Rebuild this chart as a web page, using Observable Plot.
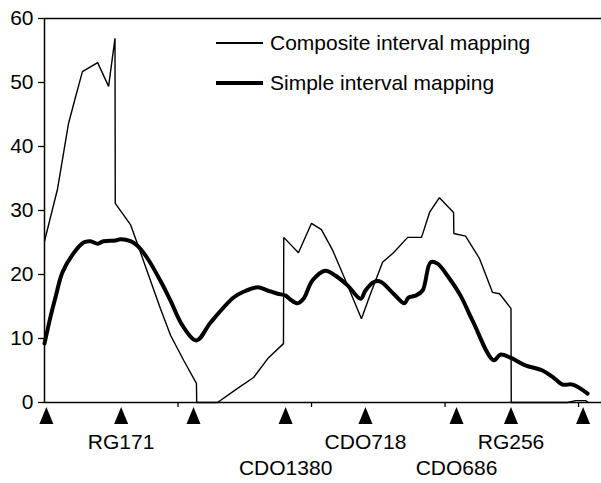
<!DOCTYPE html>
<html>
<head>
<meta charset="utf-8">
<script src="https://cdn.jsdelivr.net/npm/d3@7"></script>
<script src="https://cdn.jsdelivr.net/npm/@observablehq/plot@0.6"></script>
<style>
  html, body { margin: 0; padding: 0; background: #fff; }
  #wrap { position: relative; width: 601px; height: 483px; font-family: "Liberation Sans", Arial, Helvetica, sans-serif; }
  #legend { position: absolute; left: 216px; top: 0; font-size: 21px; color: #000; }
  .lg { position: absolute; display: flex; align-items: center; white-space: nowrap; }
  .lg .sw { width: 47px; margin-right: 7px; background: #000; }
</style>
</head>
<body>
<div id="wrap">
  <div id="chart"></div>
  <div id="legend"></div>
</div>
<script>
// ---- data (position in cM, LOD-like score) ----
const compositeX = [0, 4.9, 9.0, 11.6, 14.2, 19.9, 24.0, 26.4, 26.5, 32.2, 34.8, 43.4, 47.2, 52.1, 56.9, 57.0, 64.8, 72.3, 78.3, 83.9, 89.5, 89.6, 95.1, 100.0, 103.7, 107.9, 111.6, 118.7, 122.1, 126.6, 130.7, 136.0, 141.2, 144.2, 147.9, 153.2, 153.3, 157.7, 162.9, 167.8, 170.4, 174.7, 174.8, 195.9, 198.9, 202.6, 203.7];
const compositeY = [25.2, 33.4, 43.6, 47.7, 51.7, 53.1, 49.4, 56.9, 31.1, 27.8, 24.8, 14.7, 10.5, 6.6, 3.0, 0, 0, 2.2, 3.9, 7.0, 9.2, 25.8, 23.4, 28.0, 27.0, 23.8, 20.2, 13.1, 17.0, 21.9, 23.4, 25.8, 25.8, 29.7, 32.0, 29.7, 26.4, 26.0, 22.5, 17.2, 17.0, 14.7, 0, 0, 0.3, 0.3, 0];

const simpleX = [0, 2.2, 4.1, 6.7, 10.5, 14.6, 17.2, 19.9, 22.1, 26.6, 28.5, 32.2, 34.8, 38.6, 44.2, 47.2, 51.7, 56.9, 62.2, 70.8, 74.5, 79.8, 83.5, 87.3, 90.3, 92.1, 94.8, 97.0, 100.4, 105.2, 109.0, 113.5, 118.4, 120.2, 123.2, 125.8, 130.7, 134.8, 136.3, 139.0, 141.6, 144.6, 147.2, 150.9, 155.8, 160.3, 168.2, 170.8, 174.5, 180.1, 186.5, 190.6, 194.0, 197.8, 203.4];
const simpleY = [9.2, 13.3, 16.4, 20.3, 23.1, 25.0, 25.2, 24.8, 25.2, 25.3, 25.5, 25.2, 24.5, 22.5, 18.4, 15.9, 12.0, 9.7, 12.5, 16.4, 17.3, 18.0, 17.5, 17.0, 16.7, 16.1, 15.5, 16.2, 19.1, 20.6, 19.8, 18.3, 16.2, 17.5, 18.8, 18.9, 17.0, 15.5, 16.4, 16.7, 17.5, 21.9, 21.7, 19.8, 16.7, 12.8, 6.6, 7.5, 7.0, 5.8, 5.0, 3.9, 2.8, 2.8, 1.4];

const markerPos = [0.7, 28.7, 55.8, 90.3, 120.2, 154.3, 174.7, 201.7];
const markerLabels = ["", "RG171", "", "CDO1380", "CDO718", "CDO686", "RG256", ""];
const markerRow = [0, 0, 0, 1, 0, 1, 0, 0];

const yTicks = [0, 10, 20, 30, 40, 50, 60];
const xMinorTicks = [50, 100, 150, 200];
const seriesNames = ["Composite interval mapping", "Simple interval mapping"];

// ---- build tables ----
const composite = compositeX.map((x, i) => ({x, y: compositeY[i]}));
const simple = simpleX.map((x, i) => ({x, y: simpleY[i]}));
const markers = markerPos.map((x, i) => ({x, label: markerLabels[i], row: markerRow[i]}));

const triangle = {
  draw(context) {
    context.moveTo(0, -8.5);
    context.lineTo(7, 8.5);
    context.lineTo(-7, 8.5);
    context.closePath();
  }
};

const font = "Liberation Sans, Arial, Helvetica, sans-serif";

const chart = Plot.plot({
  width: 601,
  height: 483,
  marginLeft: 44,
  marginRight: 0,
  marginTop: 18,
  marginBottom: 81,
  style: {fontFamily: font, fontSize: "21px", color: "#000", background: "#fff"},
  x: {domain: [0, 208.6], axis: null},
  y: {domain: [0, 60], axis: null},
  marks: [
    Plot.axisY({ticks: yTicks, tickSize: 6, tickPadding: 5, fontSize: 21, label: null, stroke: "#000", strokeWidth: 1.3}),
    Plot.axisX({ticks: xMinorTicks, tickSize: 5, tickFormat: () => "", label: null, stroke: "#000", strokeWidth: 1.3}),
    Plot.ruleY([60], {stroke: "#000", strokeWidth: 1.5}),
    Plot.ruleY([0], {stroke: "#000", strokeWidth: 1.5}),
    Plot.ruleX([0], {stroke: "#000", strokeWidth: 1.5}),
    Plot.line(composite, {x: "x", y: "y", stroke: "#000", strokeWidth: 1.4, strokeLinejoin: "miter"}),
    Plot.line(simple, {x: "x", y: "y", stroke: "#000", strokeWidth: 4, strokeLinejoin: "round", curve: "catmull-rom"}),
    Plot.dot(markers, {x: "x", y: () => 0, dy: 13, symbol: triangle, fill: "#000", stroke: null, r: 5}),
    Plot.text(markers.filter(d => d.row === 0), {x: "x", y: () => 0, text: "label", dy: 40, fontSize: 21, fill: "#000"}),
    Plot.text(markers.filter(d => d.row === 1), {x: "x", y: () => 0, text: "label", dy: 66, fontSize: 21, fill: "#000"})
  ]
});
document.getElementById("chart").appendChild(chart);

// ---- legend ----
const legend = document.getElementById("legend");
const legendTops = [31, 71];
const legendWidths = [1.4, 4];
seriesNames.forEach((name, i) => {
  const row = document.createElement("div");
  row.className = "lg";
  row.style.top = legendTops[i] + "px";
  row.style.height = "24px";
  const sw = document.createElement("span");
  sw.className = "sw";
  sw.style.height = legendWidths[i] + "px";
  const t = document.createElement("span");
  t.textContent = name;
  row.appendChild(sw);
  row.appendChild(t);
  legend.appendChild(row);
});
</script>
</body>
</html>
